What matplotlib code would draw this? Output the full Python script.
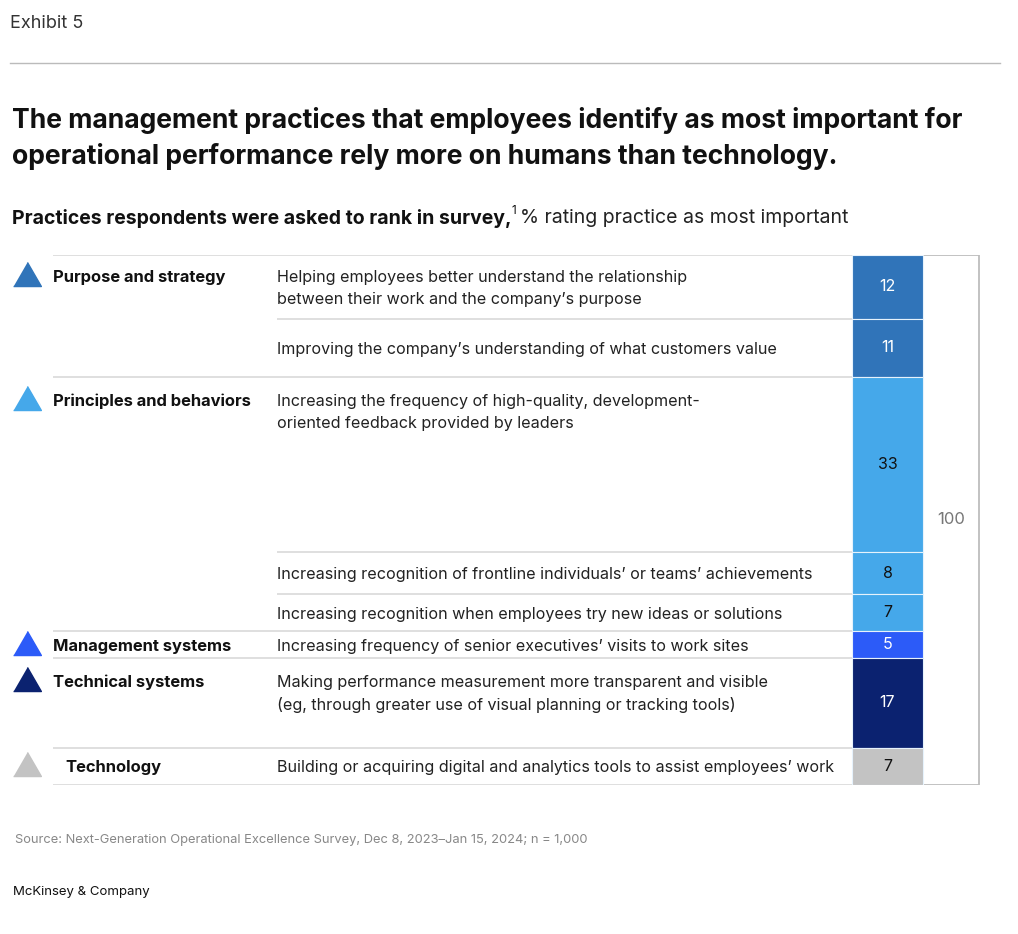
import numpy as np
import matplotlib
matplotlib.use("Agg")
import matplotlib.pyplot as plt

W, H = 1018, 934
plt.rcParams["font.family"] = ["Inter", "DejaVu Sans"]

# data
groups = ["Purpose and strategy", "Principles and behaviors", "Management systems",
          "Technical systems", "Technology"]
group_colors = ["#3074B9", "#45A8EA", "#2C5BF8", "#0B2270", "#C3C3C3"]
group_text_colors = ["white", "#111111", "white", "white", "#111111"]

practices = [
    "Helping employees better understand the relationship\nbetween their work and the company\u2019s purpose",
    "Improving the company\u2019s understanding of what customers value",
    "Increasing the frequency of high-quality, development-\noriented feedback provided by leaders",
    "Increasing recognition of frontline individuals\u2019 or teams\u2019 achievements",
    "Increasing recognition when employees try new ideas or solutions",
    "Increasing frequency of senior executives\u2019 visits to work sites",
    "Making performance measurement more transparent and visible\n(eg, through greater use of visual planning or tracking tools)",
    "Building or acquiring digital and analytics tools to assist employees\u2019 work",
]
practice_group = [0, 0, 1, 1, 1, 2, 3, 4]
values = [12, 11, 33, 8, 7, 5, 17, 7]

total = sum(values)
bottoms = np.concatenate([[0], np.cumsum(values)[:-1]])

fig = plt.figure(figsize=(W / 100, H / 100), dpi=100)
fig.patch.set_facecolor("white")

top_px, bot_px = 255, 785
ax = fig.add_axes([0, (H - bot_px) / H, 1, (bot_px - top_px) / H])
ax.set_xlim(0, W)
ax.set_ylim(total, 0)
ax.axis("off")
u = (bot_px - top_px) / total  # px per unit


def py(px):
    return px / u


# bracket box for total
ax.bar(951, total, bottom=0, width=56, fill=False, edgecolor="#BDBDBD", linewidth=1.3, zorder=1)
ax.text(951, total / 2, f"{total}", ha="center", va="center", fontsize=12, color="#777777")

# stacked bar
colors = [group_colors[g] for g in practice_group]
ax.bar(887.5, values, bottom=bottoms, width=71, color=colors,
       edgecolor="#E6F2FC", linewidth=0.8, zorder=3)
for v, b, g in zip(values, bottoms, practice_group):
    ax.text(887.5, b + v / 2, str(v), ha="center", va="center", fontsize=11.5,
            color=group_text_colors[g], zorder=4)

# row separator lines
for i in range(len(values) + 1):
    y = 0 if i == 0 else bottoms[i - 1] + values[i - 1]
    new_group = i == 0 or i == len(values) or practice_group[i] != practice_group[i - 1]
    x0 = 53 if new_group else 277
    ax.hlines(y, x0, 852, color="#D9D9D9", linewidth=1.2, zorder=2)

# practice texts and group labels
LINE = 22.5  # px between text lines
tri = [(-1, -0.866), (1, -0.866), (0, 0.866)]
seen = set()
for i, (txt, v, b, g) in enumerate(zip(practices, values, bottoms, practice_group)):
    n = txt.count("\n") + 1
    seg = v * u
    if seg < 70:
        first = b + py((seg - n * LINE) / 2 + LINE / 2)
    else:
        first = b + py(23)
    for k, line in enumerate(txt.split("\n")):
        ax.text(277, first + py(k * LINE), line, ha="left", va="center_baseline",
                fontsize=11.6, color="#222222")
    if g not in seen:
        seen.add(g)
        lx = 65 if g == len(groups) - 1 else 53
        ax.text(lx, first, groups[g], ha="left", va="center_baseline", fontsize=11.9,
                fontweight="bold", color="#111111")
        ax.plot(27, first - py(2), marker=tri, ms=20, color=group_colors[g],
                linestyle="none", clip_on=False)


def fx(x):
    return x / W


def fy(y):
    return 1 - y / H


# header
fig.text(fx(10), fy(23), "Exhibit 5", fontsize=13, color="#333333", va="center")
fig.add_artist(plt.Line2D([fx(10), fx(1000)], [fy(63), fy(63)], color="#BBBBBB", linewidth=1))
fig.text(fx(12), fy(117), "The management practices that employees identify as most important for",
         fontsize=19.1, fontweight="bold", color="#111111", va="center_baseline")
fig.text(fx(12), fy(153), "operational performance rely more on humans than technology.",
         fontsize=19.1, fontweight="bold", color="#111111", va="center_baseline")

r = fig.canvas.get_renderer()
t1 = fig.text(fx(12), fy(216), "Practices respondents were asked to rank in survey,",
              fontsize=14, fontweight="bold", color="#111111", va="center_baseline")
bb = t1.get_window_extent(renderer=r)
t2 = fig.text(bb.x1 / W, fy(209), "1", fontsize=8.5, color="#111111", va="center_baseline")
bb2 = t2.get_window_extent(renderer=r)
fig.text(bb2.x1 / W + 4 / W, fy(216), "% rating practice as most important",
         fontsize=14, color="#222222", va="center_baseline")

# footer
fig.text(fx(15), fy(839), "Source: Next-Generation Operational Excellence Survey, Dec 8, 2023\u2013Jan 15, 2024; n = 1,000",
         fontsize=9.3, color="#888888", va="center_baseline")
fig.text(fx(13), fy(891), "McKinsey & Company", fontsize=9.5, color="#111111", va="center_baseline")

fig.savefig("out.png", dpi=100, facecolor="white")
